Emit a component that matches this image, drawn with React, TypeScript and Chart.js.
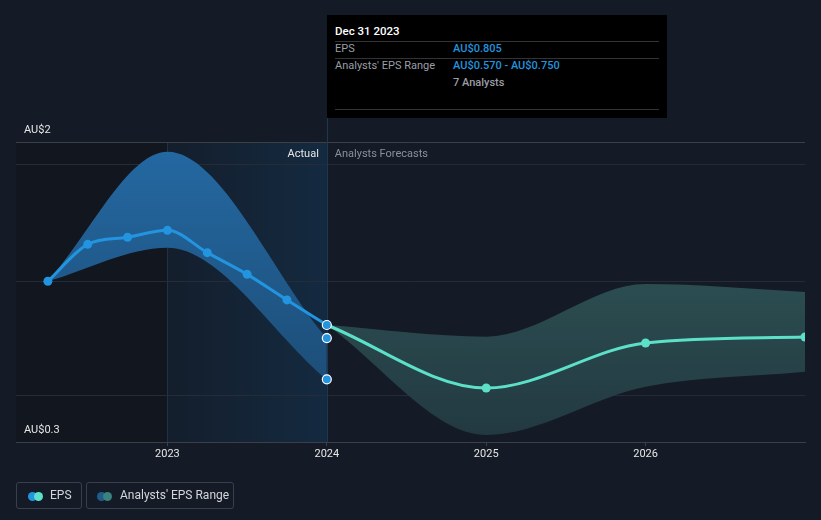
import React, { useEffect, useRef } from 'react';
import { Chart, registerables } from 'chart.js';

Chart.register(...registerables);

// ---- data (decimal years on x, AU$ per share on y) ----
const histDates = [2022.25, 2022.5, 2022.75, 2023.0, 2023.25, 2023.5, 2023.75, 2024.0];
const histEps = [1.211, 1.42, 1.46, 1.5, 1.373, 1.25, 1.105, 0.963];
const histRangeDates = [2022.25, 2023.0, 2024.0];
const histRangeHigh = [1.211, 1.945, 0.889];
const histRangeLow = [1.211, 1.401, 0.655];
const forecastDates = [2024.0, 2025.0, 2026.0, 2027.0];
const forecastEps = [0.963, 0.606, 0.861, 0.895];
const forecastHigh = [0.963, 0.897, 1.195, 1.15];
const forecastLow = [0.963, 0.34, 0.613, 0.698];
const markerDate = 2024.0;
const markerValues = [0.963, 0.889, 0.655];
const yearTicks = [2023, 2024, 2025, 2026];
const gridValues = [2, 1.87, 1.212, 0.561];
const yLabelValues = [2, 0.3];
const yLabelTexts = ['AU$2', 'AU$0.3'];
const X_MIN = 2022.05;
const X_MAX = 2027.0;
const Y_MIN = 0.3;
const Y_MAX = 2;
const actualStart = 2023.0;
const actualEnd = 2024.0;

const FONT = 'Roboto, "Open Sans", Arial, sans-serif';

function zip(xs: number[], ys: number[]) {
  return xs.map((x, i) => ({ x, y: ys[i] }));
}

function vGrad(chart: any, top: string, bottom: string, fallback: string) {
  const area = chart.chartArea;
  if (!area) return fallback;
  const g = chart.ctx.createLinearGradient(0, area.top, 0, area.bottom);
  g.addColorStop(0, top);
  g.addColorStop(1, bottom);
  return g;
}

const decorPlugin = {
  id: 'decor',
  beforeDraw(chart: any) {
    const { ctx, chartArea, scales } = chart;
    const xs = scales.x;
    const x0 = chartArea.left;
    const x1 = xs.getPixelForValue(actualStart);
    const x2 = xs.getPixelForValue(actualEnd);
    ctx.save();
    ctx.fillStyle = '#12161f';
    ctx.fillRect(x0, chartArea.top, x1 - x0, chartArea.bottom - chartArea.top);
    const g = ctx.createLinearGradient(x1, 0, x2, 0);
    g.addColorStop(0, '#141e2c');
    g.addColorStop(1, '#142a40');
    ctx.fillStyle = g;
    ctx.fillRect(x1, chartArea.top, x2 - x1, chartArea.bottom - chartArea.top);
    ctx.strokeStyle = '#1c3249';
    ctx.lineWidth = 1;
    ctx.beginPath();
    ctx.moveTo(Math.round(x1) + 0.5, chartArea.top);
    ctx.lineTo(Math.round(x1) + 0.5, chartArea.bottom);
    ctx.stroke();
    ctx.restore();
  },
  beforeDatasetsDraw(chart: any) {
    const { ctx, chartArea, scales } = chart;
    const x2 = scales.x.getPixelForValue(actualEnd);
    ctx.save();
    ctx.strokeStyle = '#20384f';
    ctx.lineWidth = 1;
    ctx.beginPath();
    ctx.moveTo(Math.round(x2) + 0.5, 15);
    ctx.lineTo(Math.round(x2) + 0.5, chartArea.bottom);
    ctx.stroke();
    ctx.restore();
  },
  afterDraw(chart: any) {
    const { ctx, chartArea, scales } = chart;
    const ys = scales.y;
    const x2 = scales.x.getPixelForValue(actualEnd);
    ctx.save();
    ctx.font = `11px ${FONT}`;
    ctx.textBaseline = 'middle';
    ctx.fillStyle = '#e6e6e6';
    ctx.textAlign = 'left';
    yLabelValues.forEach((v, i) => {
      ctx.fillText(yLabelTexts[i], chartArea.left + 8, ys.getPixelForValue(v) - 12);
    });
    ctx.textAlign = 'right';
    ctx.fillText('Actual', x2 - 8, chartArea.top + 12.5);
    ctx.textAlign = 'left';
    ctx.fillStyle = '#8b9099';
    ctx.fillText('Analysts Forecasts', x2 + 8, chartArea.top + 12.5);
    ctx.restore();
  },
};

function ChartView() {
  const ref = useRef<HTMLCanvasElement | null>(null);
  useEffect(() => {
    if (!ref.current) return;
    const chart = new Chart(ref.current, {
      type: 'line',
      data: {
        datasets: [
          {
            label: 'histHigh',
            data: zip(histRangeDates, histRangeHigh),
            borderWidth: 0,
            pointRadius: 0,
            fill: '+1',
            backgroundColor: (c: any) => vGrad(c.chart, '#2469a3', '#1b476d', '#1f5a8a'),
            cubicInterpolationMode: 'monotone',
            order: 10,
          },
          {
            label: 'histLow',
            data: zip(histRangeDates, histRangeLow),
            borderWidth: 0,
            pointRadius: 0,
            fill: false,
            cubicInterpolationMode: 'monotone',
            order: 11,
          },
          {
            label: 'fcHigh',
            data: zip(forecastDates, forecastHigh),
            borderWidth: 0,
            pointRadius: 0,
            fill: '+1',
            backgroundColor: (c: any) => vGrad(c.chart, '#33605f', '#223840', '#2b4b4f'),
            cubicInterpolationMode: 'monotone',
            order: 10,
          },
          {
            label: 'fcLow',
            data: zip(forecastDates, forecastLow),
            borderWidth: 0,
            pointRadius: 0,
            fill: false,
            cubicInterpolationMode: 'monotone',
            order: 11,
          },
          {
            label: 'EPS',
            data: zip(histDates, histEps),
            borderColor: '#2394df',
            borderWidth: 3,
            pointRadius: 4.5,
            pointBackgroundColor: '#2394df',
            pointBorderWidth: 0,
            fill: false,
            cubicInterpolationMode: 'monotone',
            order: 3,
          },
          {
            label: 'EPS forecast',
            data: zip(forecastDates, forecastEps),
            borderColor: '#5ce0c8',
            borderWidth: 3,
            pointRadius: forecastDates.map((_, i) => (i === 0 ? 0 : 4.5)),
            pointBackgroundColor: '#5ce0c8',
            pointBorderWidth: 0,
            fill: false,
            cubicInterpolationMode: 'monotone',
            order: 2,
          },
          {
            label: 'markers',
            data: markerValues.map((v) => ({ x: markerDate, y: v })),
            showLine: false,
            pointRadius: 4.5,
            pointBackgroundColor: '#2394df',
            pointBorderColor: '#ffffff',
            pointBorderWidth: 1.2,
            fill: false,
            order: 1,
          },
        ],
      },
      options: {
        responsive: false,
        animation: false,
        devicePixelRatio: 1,
        layout: { padding: { left: 16, right: 16, top: 142, bottom: 48 } },
        plugins: { legend: { display: false }, tooltip: { enabled: false } },
        events: [],
        scales: {
          x: {
            type: 'linear',
            min: X_MIN,
            max: X_MAX,
            afterFit: (s: any) => {
              s.height = 30;
            },
            afterBuildTicks: (s: any) => {
              s.ticks = yearTicks.map((v) => ({ value: v }));
            },
            grid: {
              display: true,
              drawOnChartArea: false,
              drawTicks: true,
              tickLength: 4,
              color: '#3a3f48',
            },
            border: { display: true, color: '#3a3f48', width: 1 },
            ticks: {
              autoSkip: false,
              maxRotation: 0,
              padding: 2,
              color: '#e6e6e6',
              font: { family: FONT, size: 11 },
              callback: (v: any) => String(v),
            },
          },
          y: {
            type: 'linear',
            min: Y_MIN,
            max: Y_MAX,
            afterFit: (s: any) => {
              s.width = 0;
            },
            afterBuildTicks: (s: any) => {
              s.ticks = gridValues.map((v) => ({ value: v }));
            },
            grid: {
              drawTicks: false,
              color: (c: any) => (c.tick && c.tick.value === 2 ? '#3a3f48' : '#262c37'),
            },
            border: { display: false },
            ticks: { display: false },
          },
        },
      },
      plugins: [decorPlugin],
    } as any);
    return () => chart.destroy();
  }, []);
  return <canvas ref={ref} width={821} height={520} style={{ position: 'absolute', left: 0, top: 0 }} />;
}

const tipLabel: React.CSSProperties = { position: 'absolute', left: 8, color: '#9a9ea6', fontSize: 11 };
const tipValue: React.CSSProperties = { position: 'absolute', left: 126, color: '#2394df', fontSize: 11, fontWeight: 500 };
const tipRule: React.CSSProperties = { position: 'absolute', left: 8, width: 324, height: 1, background: '#333' };

function Tooltip() {
  return (
    <div style={{ position: 'absolute', left: 327, top: 15, width: 340, height: 103, background: '#000', fontFamily: FONT, lineHeight: '14px' }}>
      <div style={{ position: 'absolute', left: 8, top: 9, color: '#fff', fontSize: 11.5, fontWeight: 500 }}>Dec 31 2023</div>
      <div style={{ ...tipRule, top: 26 }} />
      <div style={{ ...tipLabel, top: 27 }}>EPS</div>
      <div style={{ ...tipValue, top: 27 }}>AU$0.805</div>
      <div style={{ ...tipRule, top: 43 }} />
      <div style={{ ...tipLabel, top: 44 }}>Analysts' EPS Range</div>
      <div style={{ ...tipValue, top: 44 }}>AU$0.570 - AU$0.750</div>
      <div style={{ ...tipValue, top: 61, color: '#9a9ea6' }}>7 Analysts</div>
      <div style={{ ...tipRule, top: 94 }} />
    </div>
  );
}

function Dot({ left, color }: { left: number; color: string }) {
  return <div style={{ position: 'absolute', left, top: 9, width: 9, height: 9, borderRadius: '50%', background: color }} />;
}

function Legend() {
  const box: React.CSSProperties = {
    position: 'absolute',
    top: 482,
    height: 27,
    border: '1px solid #3a404b',
    borderRadius: 3,
    boxSizing: 'border-box',
    fontFamily: FONT,
    fontSize: 12,
    color: '#d4d6da',
  };
  return (
    <>
      <div style={{ ...box, left: 16, width: 66 }}>
        <Dot left={11} color="#2394df" />
        <Dot left={17} color="#5ce0c8" />
        <div style={{ position: 'absolute', left: 33, top: 5, lineHeight: '15px' }}>EPS</div>
      </div>
      <div style={{ ...box, left: 86, width: 148 }}>
        <Dot left={10} color="#1f5c8c" />
        <Dot left={16} color="#3a827d" />
        <div style={{ position: 'absolute', left: 33, top: 5, lineHeight: '15px' }}>Analysts' EPS Range</div>
      </div>
    </>
  );
}

export default function App() {
  return (
    <div style={{ position: 'absolute', left: 0, top: 0, width: 821, height: 520, background: '#151b26', overflow: 'hidden' }}>
      <ChartView />
      <Tooltip />
      <Legend />
    </div>
  );
}
